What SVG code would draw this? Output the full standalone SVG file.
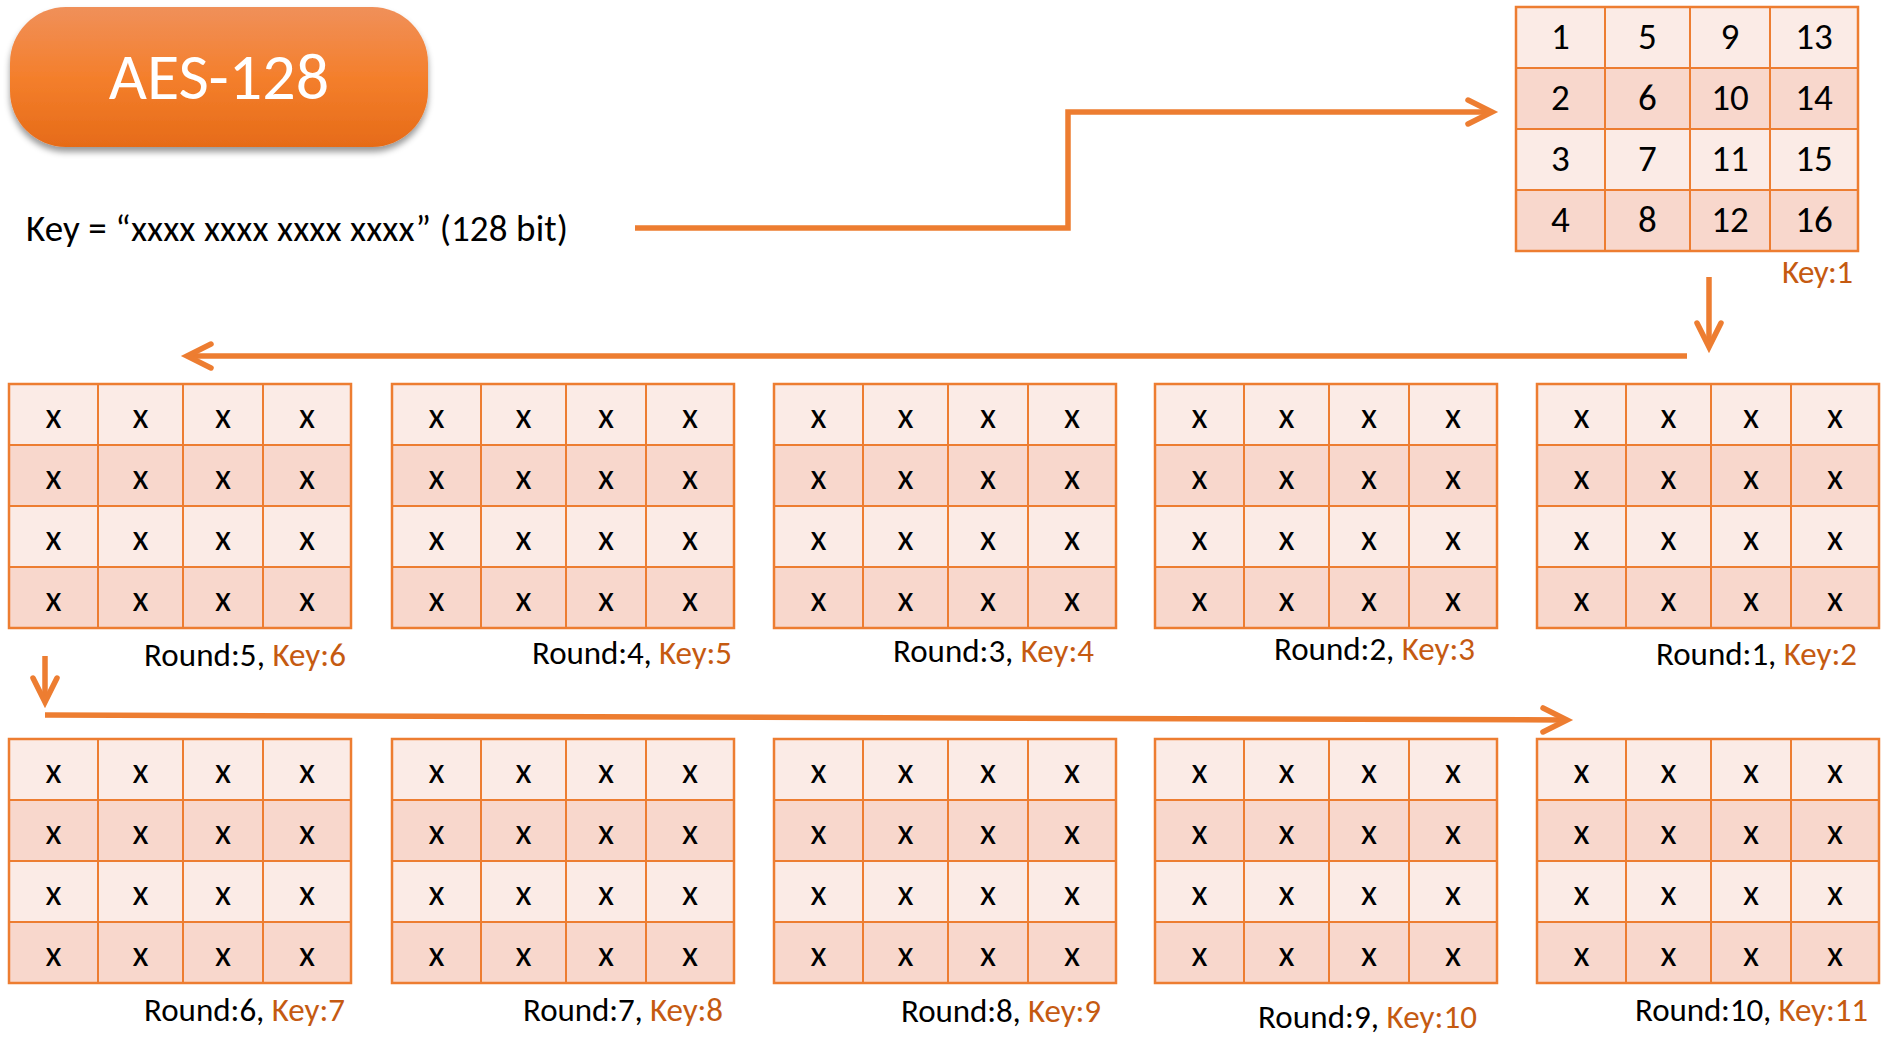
<svg xmlns="http://www.w3.org/2000/svg" xmlns:xlink="http://www.w3.org/1999/xlink" width="1892" height="1057" viewBox="0 0 1892 1057">
<style>
.f{font-family:Carlito,Lato,"Liberation Sans",sans-serif}
.c{font-family:Carlito,Lato,"Liberation Sans",sans-serif;font-size:37px;text-anchor:middle;fill:#000}
.lb{font-family:Carlito,Lato,"Liberation Sans",sans-serif;font-size:33px;text-anchor:start;fill:#000}
.k{fill:#C55A11}
.con{fill:none;stroke:#ED7D31;stroke-width:5.5}
</style>
<defs>
<linearGradient id="tg" x1="0" y1="0" x2="0" y2="1">
<stop offset="0" stop-color="#F0905A"/>
<stop offset="0.5" stop-color="#F47F2C"/>
<stop offset="1" stop-color="#E66B18"/>
</linearGradient>
<filter id="sh" x="-10%" y="-10%" width="120%" height="140%">
<feGaussianBlur in="SourceAlpha" stdDeviation="3"/>
<feOffset dy="5" result="b"/>
<feFlood flood-color="#000" flood-opacity="0.4"/>
<feComposite in2="b" operator="in"/>
<feMerge><feMergeNode/><feMergeNode in="SourceGraphic"/></feMerge>
</filter>
<marker id="ah" viewBox="-30 -16 40 32" refX="0" refY="0" markerWidth="40" markerHeight="32" markerUnits="userSpaceOnUse" orient="auto">
<path d="M-24,-12 L0,0 L-24,12" fill="none" stroke="#ED7D31" stroke-width="5.5" stroke-linecap="round"/>
</marker>
<g id="cells">
<rect x="0" y="0" width="342" height="61" fill="#FBEBE6"/>
<rect x="0" y="61" width="342" height="61" fill="#F8D7CC"/>
<rect x="0" y="122" width="342" height="61" fill="#FBEBE6"/>
<rect x="0" y="183" width="342" height="61" fill="#F8D7CC"/>
<path d="M89 0V244M174 0V244M254 0V244M0 61H342M0 122H342M0 183H342" stroke="#ED7D31" stroke-width="2" fill="none"/>
<rect x="0" y="0" width="342" height="244" fill="none" stroke="#ED7D31" stroke-width="2.5"/>
</g>
</defs>
<rect width="1892" height="1057" fill="#FFFFFF"/>

<g id="title">
<rect x="10" y="7" width="418" height="140" rx="56" ry="56" fill="url(#tg)" filter="url(#sh)"/>
<text class="f" x="219" y="99" font-size="66" fill="#FFFFFF" text-anchor="middle">AES-128</text>
</g>

<g id="keytext">
<text class="f" x="26" y="241" font-size="37" fill="#000" textLength="542">Key = “xxxx xxxx xxxx xxxx” (128 bit)</text>
</g>

<g id="connectors">
<path class="con" d="M635,228 H1068 V112 H1492" marker-end="url(#ah)"/>
<path class="con" d="M1709,277 V347" marker-end="url(#ah)"/>
<path class="con" d="M1687,356 H187" marker-end="url(#ah)"/>
<path class="con" d="M45,656 V702" marker-end="url(#ah)"/>
<path class="con" d="M45,715 L1567,720" marker-end="url(#ah)"/>
</g>

<g id="key1" transform="translate(1516,7)">
<use xlink:href="#cells" href="#cells"/>
<text class="c" x="44.5" y="42">1</text><text class="c" x="131.5" y="42">5</text><text class="c" x="214" y="42">9</text><text class="c" x="298" y="42">13</text>
<text class="c" x="44.5" y="103">2</text><text class="c" x="131.5" y="103">6</text><text class="c" x="214" y="103">10</text><text class="c" x="298" y="103">14</text>
<text class="c" x="44.5" y="164">3</text><text class="c" x="131.5" y="164">7</text><text class="c" x="214" y="164">11</text><text class="c" x="298" y="164">15</text>
<text class="c" x="44.5" y="225">4</text><text class="c" x="131.5" y="225">8</text><text class="c" x="214" y="225">12</text><text class="c" x="298" y="225">16</text>
</g>
<g id="key1-label"><text class="lb" x="1782" y="283" textLength="71"><tspan class="k">Key:1</tspan></text></g>

<g id="round5" transform="translate(9,384)">
<use xlink:href="#cells" href="#cells"/>
<text class="c" x="44.5" y="44">x</text><text class="c" x="131.5" y="44">x</text><text class="c" x="214" y="44">x</text><text class="c" x="298" y="44">x</text>
<text class="c" x="44.5" y="105">x</text><text class="c" x="131.5" y="105">x</text><text class="c" x="214" y="105">x</text><text class="c" x="298" y="105">x</text>
<text class="c" x="44.5" y="166">x</text><text class="c" x="131.5" y="166">x</text><text class="c" x="214" y="166">x</text><text class="c" x="298" y="166">x</text>
<text class="c" x="44.5" y="227">x</text><text class="c" x="131.5" y="227">x</text><text class="c" x="214" y="227">x</text><text class="c" x="298" y="227">x</text>
</g>
<g id="round5-label"><text class="lb" x="144" y="666" textLength="202">Round:5, <tspan class="k">Key:6</tspan></text></g>

<g id="round4" transform="translate(392,384)">
<use xlink:href="#cells" href="#cells"/>
<text class="c" x="44.5" y="44">x</text><text class="c" x="131.5" y="44">x</text><text class="c" x="214" y="44">x</text><text class="c" x="298" y="44">x</text>
<text class="c" x="44.5" y="105">x</text><text class="c" x="131.5" y="105">x</text><text class="c" x="214" y="105">x</text><text class="c" x="298" y="105">x</text>
<text class="c" x="44.5" y="166">x</text><text class="c" x="131.5" y="166">x</text><text class="c" x="214" y="166">x</text><text class="c" x="298" y="166">x</text>
<text class="c" x="44.5" y="227">x</text><text class="c" x="131.5" y="227">x</text><text class="c" x="214" y="227">x</text><text class="c" x="298" y="227">x</text>
</g>
<g id="round4-label"><text class="lb" x="532" y="664" textLength="200">Round:4, <tspan class="k">Key:5</tspan></text></g>

<g id="round3" transform="translate(774,384)">
<use xlink:href="#cells" href="#cells"/>
<text class="c" x="44.5" y="44">x</text><text class="c" x="131.5" y="44">x</text><text class="c" x="214" y="44">x</text><text class="c" x="298" y="44">x</text>
<text class="c" x="44.5" y="105">x</text><text class="c" x="131.5" y="105">x</text><text class="c" x="214" y="105">x</text><text class="c" x="298" y="105">x</text>
<text class="c" x="44.5" y="166">x</text><text class="c" x="131.5" y="166">x</text><text class="c" x="214" y="166">x</text><text class="c" x="298" y="166">x</text>
<text class="c" x="44.5" y="227">x</text><text class="c" x="131.5" y="227">x</text><text class="c" x="214" y="227">x</text><text class="c" x="298" y="227">x</text>
</g>
<g id="round3-label"><text class="lb" x="893" y="662" textLength="201">Round:3, <tspan class="k">Key:4</tspan></text></g>

<g id="round2" transform="translate(1155,384)">
<use xlink:href="#cells" href="#cells"/>
<text class="c" x="44.5" y="44">x</text><text class="c" x="131.5" y="44">x</text><text class="c" x="214" y="44">x</text><text class="c" x="298" y="44">x</text>
<text class="c" x="44.5" y="105">x</text><text class="c" x="131.5" y="105">x</text><text class="c" x="214" y="105">x</text><text class="c" x="298" y="105">x</text>
<text class="c" x="44.5" y="166">x</text><text class="c" x="131.5" y="166">x</text><text class="c" x="214" y="166">x</text><text class="c" x="298" y="166">x</text>
<text class="c" x="44.5" y="227">x</text><text class="c" x="131.5" y="227">x</text><text class="c" x="214" y="227">x</text><text class="c" x="298" y="227">x</text>
</g>
<g id="round2-label"><text class="lb" x="1274" y="660" textLength="201">Round:2, <tspan class="k">Key:3</tspan></text></g>

<g id="round1" transform="translate(1537,384)">
<use xlink:href="#cells" href="#cells"/>
<text class="c" x="44.5" y="44">x</text><text class="c" x="131.5" y="44">x</text><text class="c" x="214" y="44">x</text><text class="c" x="298" y="44">x</text>
<text class="c" x="44.5" y="105">x</text><text class="c" x="131.5" y="105">x</text><text class="c" x="214" y="105">x</text><text class="c" x="298" y="105">x</text>
<text class="c" x="44.5" y="166">x</text><text class="c" x="131.5" y="166">x</text><text class="c" x="214" y="166">x</text><text class="c" x="298" y="166">x</text>
<text class="c" x="44.5" y="227">x</text><text class="c" x="131.5" y="227">x</text><text class="c" x="214" y="227">x</text><text class="c" x="298" y="227">x</text>
</g>
<g id="round1-label"><text class="lb" x="1656" y="665" textLength="201">Round:1, <tspan class="k">Key:2</tspan></text></g>

<g id="round6" transform="translate(9,739)">
<use xlink:href="#cells" href="#cells"/>
<text class="c" x="44.5" y="44">x</text><text class="c" x="131.5" y="44">x</text><text class="c" x="214" y="44">x</text><text class="c" x="298" y="44">x</text>
<text class="c" x="44.5" y="105">x</text><text class="c" x="131.5" y="105">x</text><text class="c" x="214" y="105">x</text><text class="c" x="298" y="105">x</text>
<text class="c" x="44.5" y="166">x</text><text class="c" x="131.5" y="166">x</text><text class="c" x="214" y="166">x</text><text class="c" x="298" y="166">x</text>
<text class="c" x="44.5" y="227">x</text><text class="c" x="131.5" y="227">x</text><text class="c" x="214" y="227">x</text><text class="c" x="298" y="227">x</text>
</g>
<g id="round6-label"><text class="lb" x="144" y="1021" textLength="201">Round:6, <tspan class="k">Key:7</tspan></text></g>

<g id="round7" transform="translate(392,739)">
<use xlink:href="#cells" href="#cells"/>
<text class="c" x="44.5" y="44">x</text><text class="c" x="131.5" y="44">x</text><text class="c" x="214" y="44">x</text><text class="c" x="298" y="44">x</text>
<text class="c" x="44.5" y="105">x</text><text class="c" x="131.5" y="105">x</text><text class="c" x="214" y="105">x</text><text class="c" x="298" y="105">x</text>
<text class="c" x="44.5" y="166">x</text><text class="c" x="131.5" y="166">x</text><text class="c" x="214" y="166">x</text><text class="c" x="298" y="166">x</text>
<text class="c" x="44.5" y="227">x</text><text class="c" x="131.5" y="227">x</text><text class="c" x="214" y="227">x</text><text class="c" x="298" y="227">x</text>
</g>
<g id="round7-label"><text class="lb" x="523" y="1021" textLength="200">Round:7, <tspan class="k">Key:8</tspan></text></g>

<g id="round8" transform="translate(774,739)">
<use xlink:href="#cells" href="#cells"/>
<text class="c" x="44.5" y="44">x</text><text class="c" x="131.5" y="44">x</text><text class="c" x="214" y="44">x</text><text class="c" x="298" y="44">x</text>
<text class="c" x="44.5" y="105">x</text><text class="c" x="131.5" y="105">x</text><text class="c" x="214" y="105">x</text><text class="c" x="298" y="105">x</text>
<text class="c" x="44.5" y="166">x</text><text class="c" x="131.5" y="166">x</text><text class="c" x="214" y="166">x</text><text class="c" x="298" y="166">x</text>
<text class="c" x="44.5" y="227">x</text><text class="c" x="131.5" y="227">x</text><text class="c" x="214" y="227">x</text><text class="c" x="298" y="227">x</text>
</g>
<g id="round8-label"><text class="lb" x="901" y="1022" textLength="200">Round:8, <tspan class="k">Key:9</tspan></text></g>

<g id="round9" transform="translate(1155,739)">
<use xlink:href="#cells" href="#cells"/>
<text class="c" x="44.5" y="44">x</text><text class="c" x="131.5" y="44">x</text><text class="c" x="214" y="44">x</text><text class="c" x="298" y="44">x</text>
<text class="c" x="44.5" y="105">x</text><text class="c" x="131.5" y="105">x</text><text class="c" x="214" y="105">x</text><text class="c" x="298" y="105">x</text>
<text class="c" x="44.5" y="166">x</text><text class="c" x="131.5" y="166">x</text><text class="c" x="214" y="166">x</text><text class="c" x="298" y="166">x</text>
<text class="c" x="44.5" y="227">x</text><text class="c" x="131.5" y="227">x</text><text class="c" x="214" y="227">x</text><text class="c" x="298" y="227">x</text>
</g>
<g id="round9-label"><text class="lb" x="1258" y="1028" textLength="219">Round:9, <tspan class="k">Key:10</tspan></text></g>

<g id="round10" transform="translate(1537,739)">
<use xlink:href="#cells" href="#cells"/>
<text class="c" x="44.5" y="44">x</text><text class="c" x="131.5" y="44">x</text><text class="c" x="214" y="44">x</text><text class="c" x="298" y="44">x</text>
<text class="c" x="44.5" y="105">x</text><text class="c" x="131.5" y="105">x</text><text class="c" x="214" y="105">x</text><text class="c" x="298" y="105">x</text>
<text class="c" x="44.5" y="166">x</text><text class="c" x="131.5" y="166">x</text><text class="c" x="214" y="166">x</text><text class="c" x="298" y="166">x</text>
<text class="c" x="44.5" y="227">x</text><text class="c" x="131.5" y="227">x</text><text class="c" x="214" y="227">x</text><text class="c" x="298" y="227">x</text>
</g>
<g id="round10-label"><text class="lb" x="1635" y="1021" textLength="233">Round:10, <tspan class="k">Key:11</tspan></text></g>
</svg>
